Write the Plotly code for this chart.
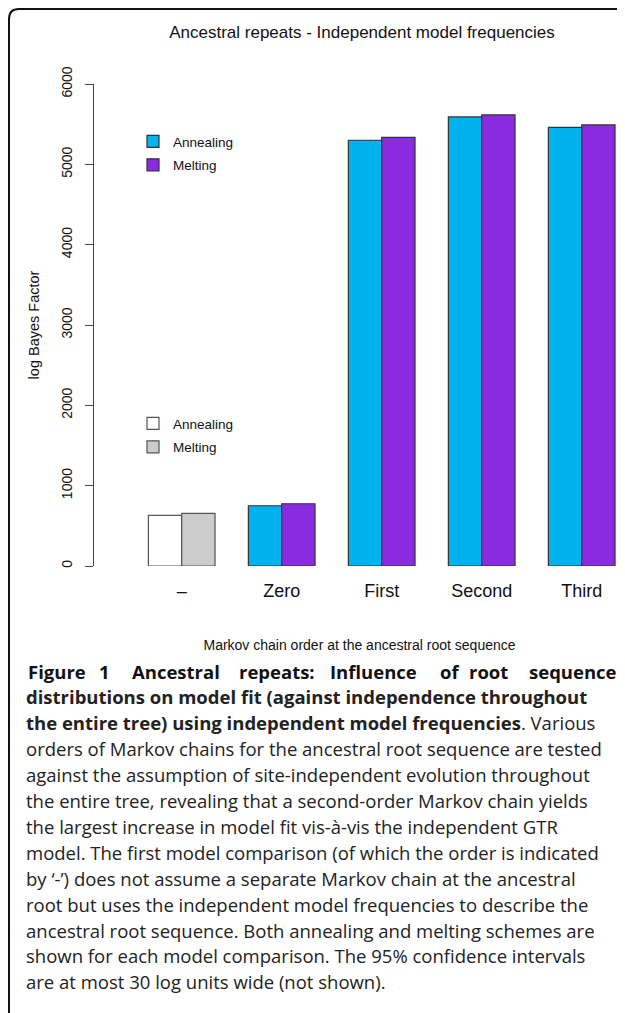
import plotly.graph_objects as go

# ---------------- data ----------------
categories = ["\u2013", "Zero", "First", "Second", "Third"]
base_cat = ["\u2013"]
markov_cats = ["Zero", "First", "Second", "Third"]
base_annealing = [630]
base_melting = [655]
markov_annealing = [750, 5300, 5590, 5460]
markov_melting = [775, 5335, 5615, 5490]
y_ticks = [0, 1000, 2000, 3000, 4000, 5000, 6000]

title_text = "Ancestral repeats - Independent model frequencies"
x_title = "Markov chain order at the ancestral root sequence"
y_title = "log Bayes Factor"

# first caption line is justified in the original: words placed separately
caption_first_words = ["Figure", "1", "Ancestral", "repeats:", "Influence", "of", "root", "sequence"]
caption_first_word_x = [27, 98, 131, 238, 329, 439, 468, 528]
caption_lines = [
    "<b>distributions on model fit (against independence throughout</b>",
    "<b>the entire tree) using independent model frequencies</b>. Various",
    "orders of Markov chains for the ancestral root sequence are tested",
    "against the assumption of site-independent evolution throughout",
    "the entire tree, revealing that a second-order Markov chain yields",
    "the largest increase in model fit vis-\u00e0-vis the independent GTR",
    "model. The first model comparison (of which the order is indicated",
    "by \u2018-\u2019) does not assume a separate Markov chain at the ancestral",
    "root but uses the independent model frequencies to describe the",
    "ancestral root sequence. Both annealing and melting schemes are",
    "shown for each model comparison. The 95% confidence intervals",
    "are at most 30 log units wide (not shown).",
]

# ---------------- layout geometry (page has an 8px body margin) ----------------
OFF = 8
W, H = 625 - OFF, 1013 - OFF
L, T, B_PX = 94 - OFF, 84 - OFF, 566 - OFF
R = 0
PW = W - L - R
PH = B_PX - T

def px_x(p):
    return (p - OFF - L) / PW

def px_y(p):
    return (B_PX - (p - OFF)) / PH

CYAN = "#00B2EE"
PURPLE = "#8A2BE2"
GREY = "#CCCCCC"
FONT = "Liberation Sans, Arial, sans-serif"
CAP_FONT = "Open Sans, sans-serif"

fig = go.Figure()
bw = 1 / 3
fig.add_trace(go.Bar(x=markov_cats, y=markov_annealing, name="Annealing",
                     width=bw, offset=-bw, marker=dict(color=CYAN, line=dict(color="#333333", width=1.2)),
                     legend="legend", legendgroup="a1"))
fig.add_trace(go.Bar(x=markov_cats, y=markov_melting, name="Melting",
                     width=bw, offset=0, marker=dict(color=PURPLE, line=dict(color="#333333", width=1.2)),
                     legend="legend", legendgroup="m1"))
fig.add_trace(go.Bar(x=base_cat, y=base_annealing, name="Annealing",
                     width=bw, offset=-bw, marker=dict(color="#FFFFFF", line=dict(color="#555555", width=1.2)),
                     legend="legend2", legendgroup="a2"))
fig.add_trace(go.Bar(x=base_cat, y=base_melting, name="Melting",
                     width=bw, offset=0, marker=dict(color=GREY, line=dict(color="#555555", width=1.2)),
                     legend="legend2", legendgroup="m2"))

legend_common = dict(font=dict(family=FONT, size=13.5, color="#111111"), bgcolor="rgba(0,0,0,0)",
                     traceorder="grouped", tracegroupgap=3, xanchor="left", yanchor="top",
                     itemclick=False, itemdoubleclick=False)

annotations = []
cap_y0 = 671
cap_dy = 25.9
for w, wx in zip(caption_first_words, caption_first_word_x):
    annotations.append(dict(
        text=f"<b>{w}</b>", xref="paper", yref="paper", x=px_x(wx - 1), y=px_y(cap_y0),
        xanchor="left", yanchor="middle", showarrow=False, align="left",
        font=dict(family=CAP_FONT, size=18.5, color="#111111")))
for i, line in enumerate(caption_lines):
    annotations.append(dict(
        text=line, xref="paper", yref="paper", x=px_x(24), y=px_y(cap_y0 + (i + 1) * cap_dy),
        xanchor="left", yanchor="middle", showarrow=False, align="left",
        font=dict(family=CAP_FONT, size=18.5, color="#222222")))

# frame (rounded top-left corner)
fx0, fy0, rad = 9, 9, 10
path = (f"M {px_x(fx0)},{px_y(1030)} L {px_x(fx0)},{px_y(fy0 + rad)} "
        f"Q {px_x(fx0)},{px_y(fy0)} {px_x(fx0 + rad)},{px_y(fy0)} L {px_x(660)},{px_y(fy0)}")

fig.update_layout(
    width=W, height=H,
    margin=dict(l=L, r=R, t=T, b=H - B_PX, pad=0),
    paper_bgcolor="white", plot_bgcolor="white",
    barmode="overlay",
    showlegend=True,
    title=dict(text=title_text, x=(362 - OFF) / W, xanchor="center", xref="container",
               y=1 - (32 - OFF) / H, yanchor="middle", yref="container",
               font=dict(family=FONT, size=17, color="#111111")),
    xaxis=dict(categoryorder="array", categoryarray=categories, type="category",
               range=[-0.877, -0.877 + PW / 100], showline=False, showgrid=False, zeroline=False,
               ticks="", ticklabelstandoff=12,
               tickfont=dict(family=FONT, size=18, color="#111111"),
               title=dict(text=x_title, standoff=40, font=dict(family=FONT, size=14, color="#111111"))),
    yaxis=dict(range=[0, 6000], tickvals=y_ticks, ticktext=[str(v) for v in y_ticks],
               tickangle=-90, ticks="outside", ticklen=8, tickcolor="#444444", tickwidth=1,
               showline=True, linecolor="#444444", linewidth=1, showgrid=False, zeroline=False,
               ticklabelstandoff=7,
               tickfont=dict(family=FONT, size=14, color="#111111"),
               title=dict(text=y_title, standoff=16, font=dict(family=FONT, size=14.5, color="#111111"))),
    legend=dict(x=px_x(133), y=px_y(126), **legend_common),
    legend2=dict(x=px_x(133), y=px_y(408), **legend_common),
    annotations=annotations,
    shapes=[dict(type="path", path=path, xref="paper", yref="paper",
                 line=dict(color="#111111", width=2), layer="above")],
)

fig.write_html("out.html")
